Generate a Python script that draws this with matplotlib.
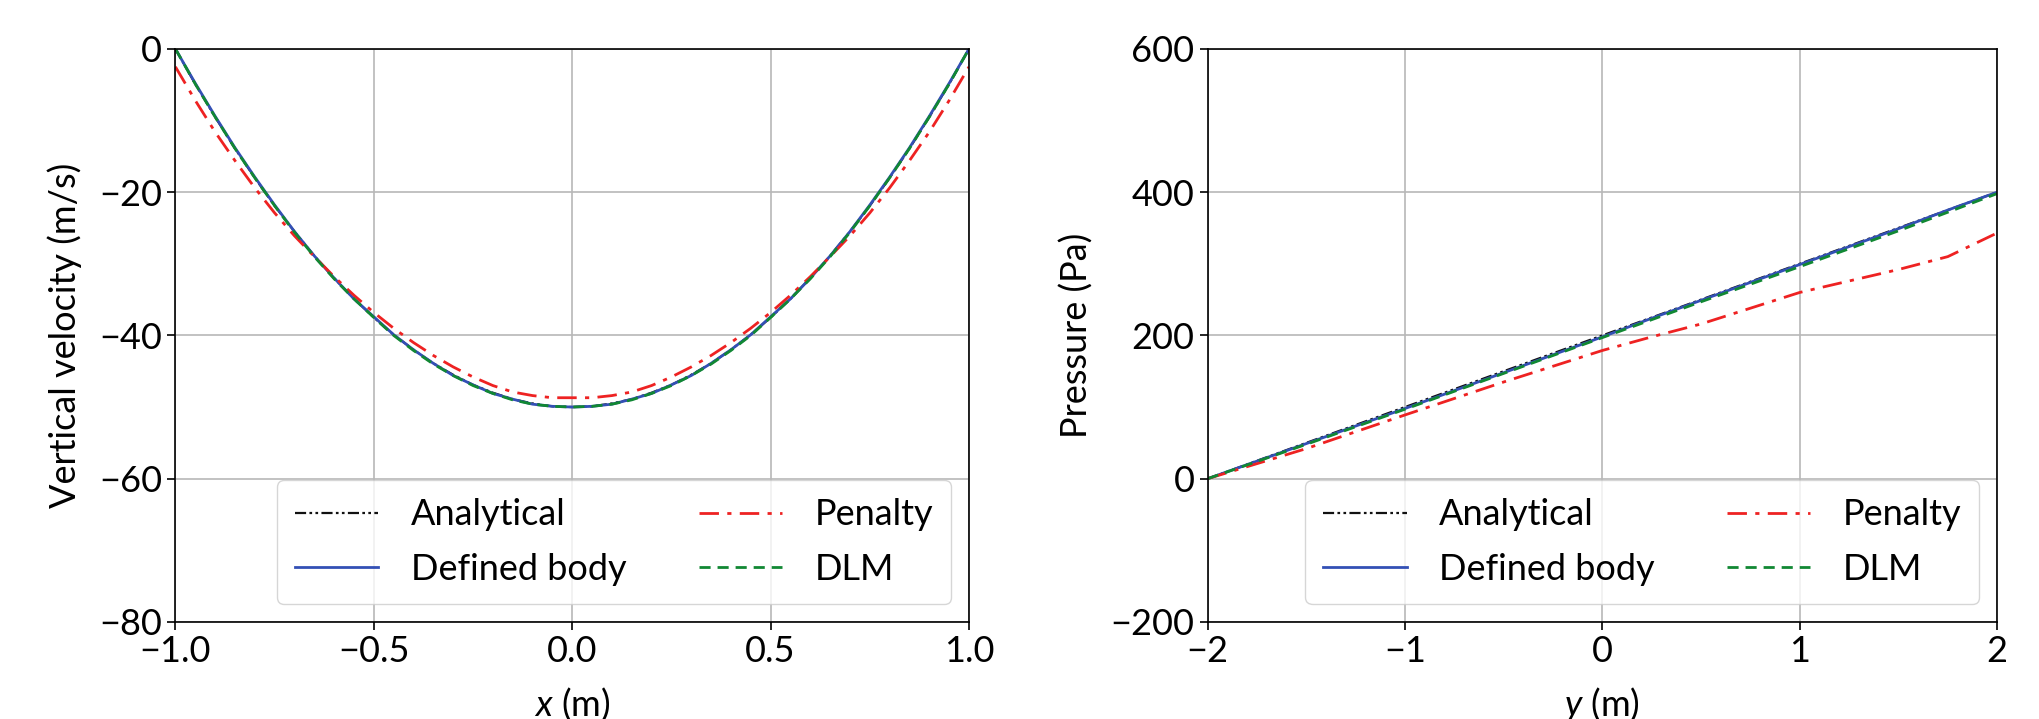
import matplotlib
matplotlib.use("Agg")
import matplotlib.pyplot as plt

# --- data ---
x_pos = [-1.0, -0.95, -0.9, -0.85, -0.8, -0.75, -0.7, -0.65, -0.6, -0.55, -0.5,
         -0.45, -0.4, -0.35, -0.3, -0.25, -0.2, -0.15, -0.1, -0.05, 0.0,
         0.05, 0.1, 0.15, 0.2, 0.25, 0.3, 0.35, 0.4, 0.45, 0.5,
         0.55, 0.6, 0.65, 0.7, 0.75, 0.8, 0.85, 0.9, 0.95, 1.0]
vel_analytical = [0.0, -4.9, -9.5, -13.9, -18.0, -21.9, -25.5, -28.9, -32.0, -34.9, -37.5,
                  -39.9, -42.0, -43.9, -45.5, -46.9, -48.0, -48.9, -49.5, -49.9, -50.0,
                  -49.9, -49.5, -48.9, -48.0, -46.9, -45.5, -43.9, -42.0, -39.9, -37.5,
                  -34.9, -32.0, -28.9, -25.5, -21.9, -18.0, -13.9, -9.5, -4.9, 0.0]
vel_defined = [0.0, -4.8, -9.4, -13.8, -17.9, -21.8, -25.5, -28.9, -32.0, -34.9, -37.4,
               -39.9, -42.0, -43.9, -45.6, -46.9, -48.1, -48.9, -49.6, -49.9, -50.0,
               -49.9, -49.6, -48.9, -48.1, -46.9, -45.6, -43.9, -42.0, -39.9, -37.4,
               -34.9, -32.0, -28.9, -25.5, -21.8, -17.9, -13.8, -9.4, -4.8, 0.0]
vel_penalty = [-2.5, -7.2, -11.6, -15.6, -19.4, -22.9, -26.1, -29.0, -31.8, -34.4, -36.8,
               -39.0, -41.0, -42.8, -44.4, -45.8, -47.0, -47.9, -48.4, -48.7, -48.7,
               -48.7, -48.4, -47.9, -47.0, -45.8, -44.4, -42.8, -41.0, -39.0, -36.8,
               -34.4, -31.8, -29.0, -26.1, -22.9, -19.4, -15.6, -11.6, -7.2, -2.5]
vel_dlm = [0.0, -4.9, -9.5, -13.9, -18.0, -21.9, -25.6, -29.0, -32.1, -34.9, -37.5,
           -40.0, -42.1, -44.0, -45.6, -47.0, -48.1, -49.0, -49.6, -49.9, -50.0,
           -49.9, -49.6, -49.0, -48.1, -47.0, -45.6, -44.0, -42.1, -40.0, -37.5,
           -34.9, -32.1, -29.0, -25.6, -21.9, -18.0, -13.9, -9.5, -4.9, 0.0]

y_pos = [-2.0, -1.5, -1.0, -0.5, 0.0, 0.25, 0.5, 1.0, 1.5, 1.75, 2.0]
p_analytical = [0.0, 50.0, 100.0, 150.0, 200.0, 225.0, 250.0, 300.0, 350.0, 375.0, 400.0]
p_defined = [0.0, 49.0, 98.0, 148.0, 198.0, 224.0, 249.0, 299.0, 349.0, 375.0, 400.0]
p_penalty = [0.0, 42.0, 89.0, 135.0, 179.0, 198.0, 216.0, 260.0, 292.0, 310.0, 343.0]
p_dlm = [0.0, 48.0, 97.0, 147.0, 197.0, 222.0, 247.0, 296.0, 346.0, 372.0, 398.0]

labels = ["Analytical", "Defined body", "Penalty", "DLM"]

plt.rcParams['font.family'] = ['Lato', 'DejaVu Sans']
plt.rcParams['mathtext.fontset'] = 'custom'
plt.rcParams['mathtext.it'] = 'Lato:italic'
plt.rcParams['mathtext.rm'] = 'Lato'
plt.rcParams['font.size'] = 26

FS = 26


def draw_panel(ax, xs, series):
    styles = [
        dict(color="#111111", lw=1.6, dashes=(5, 1.5, 1.2, 1.5, 1.2, 1.5)),
        dict(color="#3350b5", lw=2.0, linestyle="-"),
        dict(color="#ee2222", lw=2.0, dashes=(7, 3, 1.5, 3)),
        dict(color="#118833", lw=2.0, dashes=(4, 2.5)),
    ]
    for ys, lab, st in zip(series, labels, styles):
        ax.plot(xs, ys, label=lab, **st)
    ax.grid(True, color="#b8b8b8", lw=1.2)
    ax.set_axisbelow(True)
    ax.tick_params(labelsize=FS, length=6, width=1.2)
    for s in ax.spines.values():
        s.set_linewidth(1.2)
    leg = ax.legend(loc="lower right", ncol=2, fontsize=FS, framealpha=0.8,
                    handlelength=2.3, columnspacing=2.0, handletextpad=0.9,
                    borderpad=0.5, labelspacing=0.6)
    leg.get_frame().set_edgecolor("#cccccc")


fig = plt.figure(figsize=(20.4, 7.19), dpi=100)
ax1 = fig.add_axes([0.086, 0.135, 0.389, 0.797])
ax2 = fig.add_axes([0.592, 0.135, 0.387, 0.797])

draw_panel(ax1, x_pos, [vel_analytical, vel_defined, vel_penalty, vel_dlm])
ax1.set_xlim(-1, 1)
ax1.set_ylim(-80, 0)
ax1.set_xticks([-1.0, -0.5, 0.0, 0.5, 1.0])
ax1.set_yticks([-80, -60, -40, -20, 0])
ax1.set_xlabel("$x$ (m)", fontsize=FS, labelpad=12)
ax1.set_ylabel("Vertical velocity (m/s)", fontsize=FS, labelpad=12)

draw_panel(ax2, y_pos, [p_analytical, p_defined, p_penalty, p_dlm])
ax2.set_xlim(-2, 2)
ax2.set_ylim(-200, 600)
ax2.set_xticks([-2, -1, 0, 1, 2])
ax2.set_yticks([-200, 0, 200, 400, 600])
ax2.set_xlabel("$y$ (m)", fontsize=FS, labelpad=12)
ax2.set_ylabel("Pressure (Pa)", fontsize=FS, labelpad=12)

fig.savefig("out.png", dpi=100)
